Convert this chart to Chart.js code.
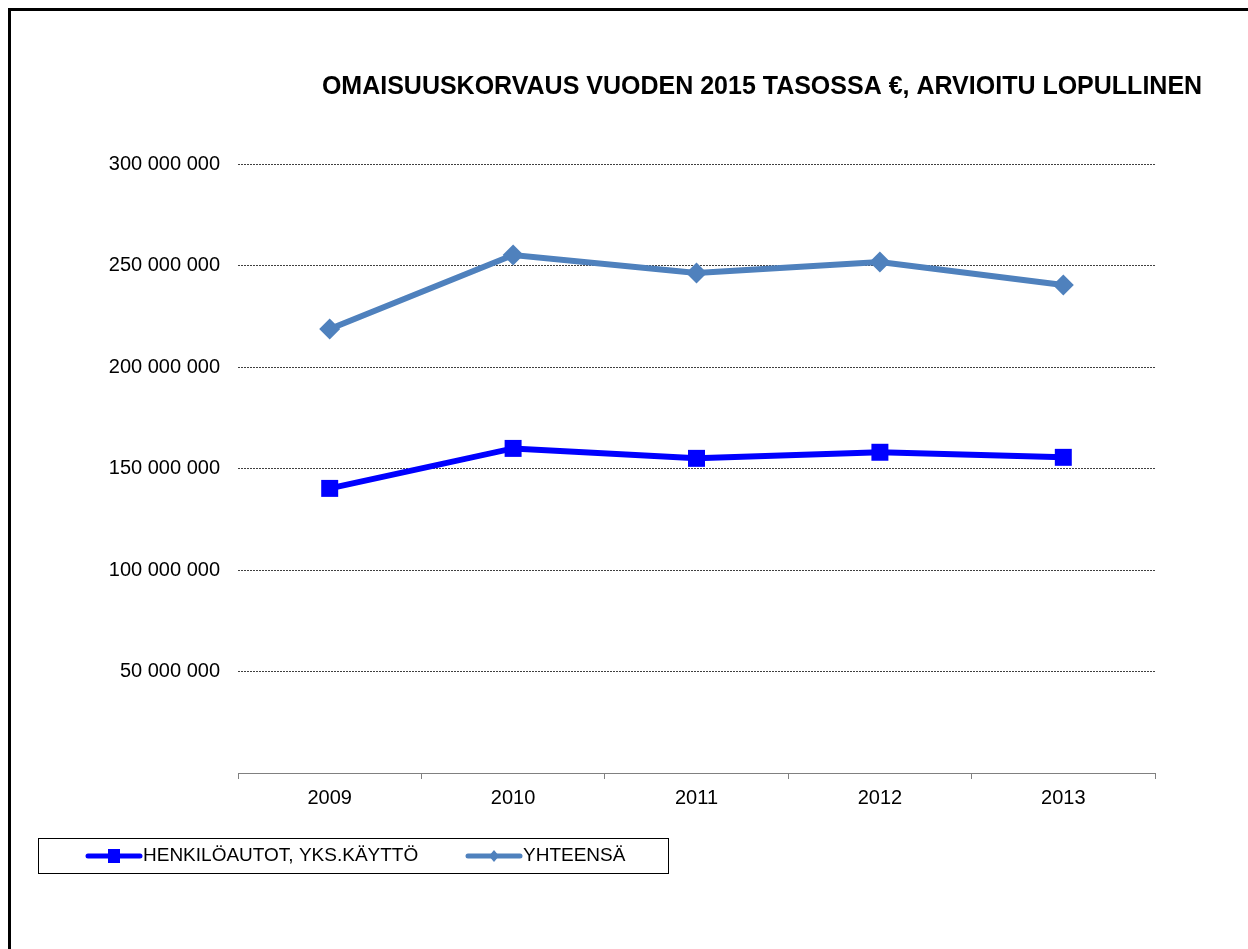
<!DOCTYPE html>
<html>
<head>
<meta charset="utf-8">
<script src="https://cdn.jsdelivr.net/npm/chart.js@4.4.0/dist/chart.umd.min.js"></script>
<style>
  html, body { margin: 0; padding: 0; background: #fff; }
  #wrap { width: 1248px; height: 949px; position: relative; }
</style>
</head>
<body>
<div id="wrap"><canvas id="lossChart" width="1248" height="949"></canvas></div>
<script>
// Data
const chartTitle = 'OMAISUUSKORVAUS VUODEN 2015 TASOSSA €, ARVIOITU LOPULLINEN';
const years = ['2009', '2010', '2011', '2012', '2013'];
const henkiloautot = [140200000, 159900000, 155000000, 158000000, 155500000];
const yhteensa = [218700000, 255200000, 246300000, 251700000, 240400000];
const seriesLabels = ['HENKILÖAUTOT, YKS.KÄYTTÖ', 'YHTEENSÄ'];
const yTicks = [0, 50000000, 100000000, 150000000, 200000000, 250000000, 300000000];

const FONT = '"Liberation Sans", Arial, sans-serif';

function formatNumber(v) {
    return String(v).replace(/\B(?=(\d{3})+(?!\d))/g, ' ');
}

// Frame, title and the boxed legend
const decorations = {
    id: 'decorations',
    afterDraw(chart) {
        const ctx = chart.ctx;
        ctx.save();

        // outer frame (top + left)
        ctx.fillStyle = '#000';
        ctx.fillRect(8, 8, chart.width - 8, 3);
        ctx.fillRect(8, 8, 3, chart.height - 8);

        // title
        ctx.font = 'bold 25px ' + FONT;
        ctx.textAlign = 'center';
        ctx.textBaseline = 'middle';
        ctx.fillText(chartTitle, 762, 87);

        // legend box
        ctx.strokeStyle = '#000';
        ctx.lineWidth = 1;
        ctx.strokeRect(38.5, 838.5, 630, 35);

        const items = [{ x: 88 }, { x: 468 }];
        ctx.font = '19px ' + FONT;
        ctx.textAlign = 'left';
        chart.data.datasets.forEach((ds, i) => {
            const x0 = items[i].x, y = 856, cx = x0 + 26;
            ctx.strokeStyle = ds.borderColor;
            ctx.lineWidth = 5;
            ctx.lineCap = 'round';
            ctx.beginPath();
            ctx.moveTo(x0, y);
            ctx.lineTo(x0 + 52, y);
            ctx.stroke();
            ctx.fillStyle = ds.borderColor;
            if (ds.pointStyle === 'rect') {
                ctx.fillRect(cx - 6, y - 7, 12, 14);
            } else {
                ctx.beginPath();
                ctx.moveTo(cx, y - 6);
                ctx.lineTo(cx + 5, y);
                ctx.lineTo(cx, y + 6);
                ctx.lineTo(cx - 5, y);
                ctx.closePath();
                ctx.fill();
            }
            ctx.fillStyle = '#000';
            ctx.fillText(ds.label, x0 + 55, y);
        });

        ctx.restore();
    }
};

new Chart(document.getElementById('lossChart'), {
    type: 'line',
    data: {
        labels: years,
        datasets: [
            {
                label: seriesLabels[0],
                data: henkiloautot,
                borderColor: '#0000FF',
                backgroundColor: '#0000FF',
                borderWidth: 6,
                pointStyle: 'rect',
                pointRadius: 12,
                pointHoverRadius: 12,
                pointBorderWidth: 0,
                tension: 0
            },
            {
                label: seriesLabels[1],
                data: yhteensa,
                borderColor: '#4F81BD',
                backgroundColor: '#4F81BD',
                borderWidth: 6,
                pointStyle: 'rectRot',
                pointRadius: 10.5,
                pointHoverRadius: 10.5,
                pointBorderWidth: 0,
                tension: 0
            }
        ]
    },
    options: {
        responsive: false,
        animation: false,
        devicePixelRatio: 1,
        layout: {
            padding: { top: 164, right: 93, bottom: 0, left: 0 }
        },
        plugins: {
            legend: { display: false },
            title: { display: false },
            tooltip: { enabled: false }
        },
        scales: {
            x: {
                offset: true,
                grid: {
                    offset: true,
                    drawOnChartArea: false,
                    drawTicks: true,
                    tickLength: 6,
                    color: '#808080'
                },
                border: { display: true, color: '#808080', width: 1 },
                ticks: {
                    color: '#000',
                    font: { family: FONT, size: 20 },
                    padding: 7,
                    maxRotation: 0
                },
                afterFit(scale) { scale.height = 176; }
            },
            y: {
                min: 0,
                max: 300000000,
                afterBuildTicks(scale) {
                    scale.ticks = yTicks.map(v => ({ value: v }));
                },
                grid: {
                    drawTicks: false,
                    color: ctx => ctx.tick && ctx.tick.value === 0 ? 'rgba(0,0,0,0)' : '#404040',
                    lineWidth: 1
                },
                border: { display: false, dash: [2, 1] },
                ticks: {
                    color: '#000',
                    font: { family: FONT, size: 20 },
                    padding: 18,
                    callback: v => v === 0 ? '' : formatNumber(v)
                },
                afterFit(scale) { scale.width = 238; }
            }
        }
    },
    plugins: [decorations]
});
</script>
</body>
</html>
